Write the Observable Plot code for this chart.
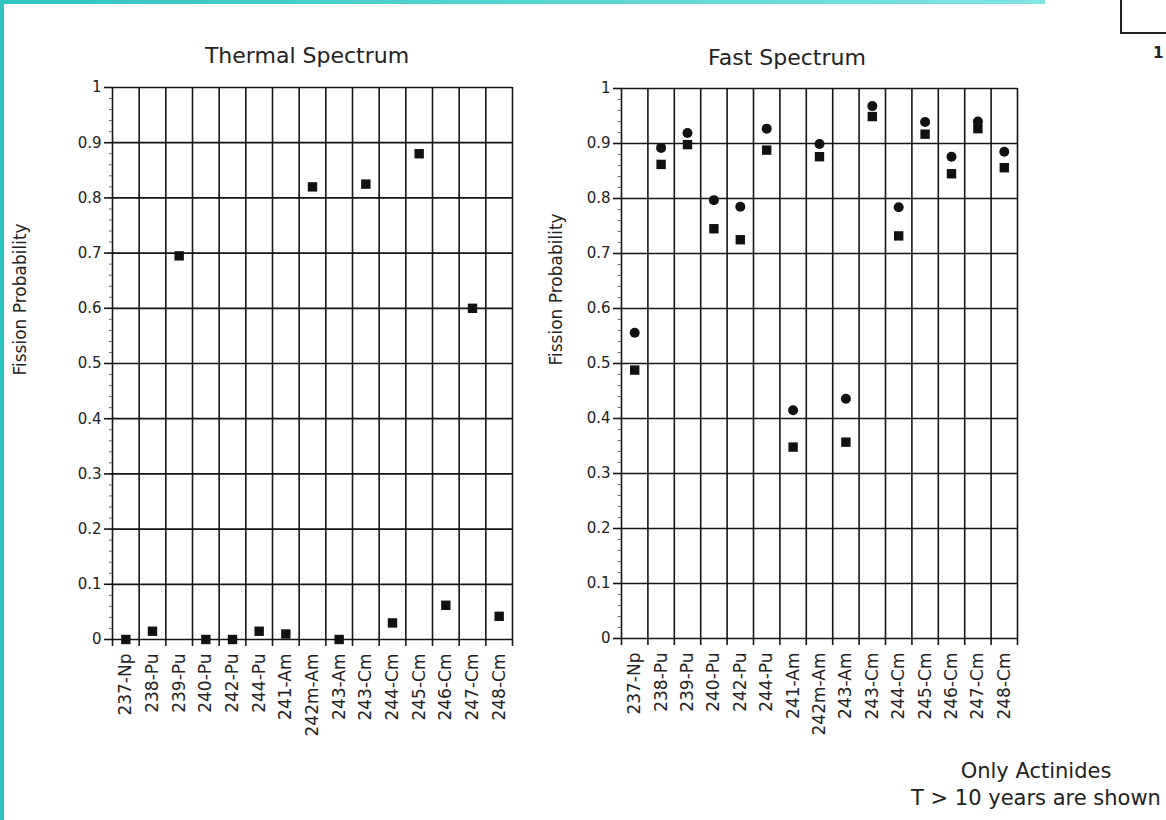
<!DOCTYPE html>
<html>
<head>
<meta charset="utf-8">
<script src="https://cdn.jsdelivr.net/npm/d3@7"></script>
<script src="https://cdn.jsdelivr.net/npm/@observablehq/plot@0.6"></script>
<style>
  html, body { margin: 0; padding: 0; background: #fff; overflow: hidden; }
  #page { position: relative; width: 1166px; height: 820px; overflow: hidden; background: #fff;
          font-family: "DejaVu Sans", sans-serif; color: #222; }
  .abs { position: absolute; }
  #leftbar { left: 0; top: 0; width: 4px; height: 820px; background: #2ec4c0; }
  #topbar { left: 0; top: 0; width: 1045px; height: 4px; background: linear-gradient(to right, #2ec4c0, #7fe6e6); }
  #corner { left: 1120px; top: -2px; width: 60px; height: 34px; border-left: 2px solid #222; border-bottom: 2px solid #222; }
  #pagenum { left: 1153px; top: 44px; font-size: 15px; font-weight: bold; color: #222; }
  #caption { left: 886px; top: 758px; width: 300px; text-align: center; font-size: 21px; line-height: 27px; color: #222; white-space: nowrap; }
  #left { left: 0; top: 0; }
  #right { left: 540px; top: 0; }
</style>
</head>
<body>
<div id="page">
  <div id="leftbar" class="abs"></div>
  <div id="topbar" class="abs"></div>
  <div id="corner" class="abs"></div>
  <div id="pagenum" class="abs">1</div>
  <div id="left" class="abs"></div>
  <div id="right" class="abs"></div>
  <div id="caption" class="abs">Only Actinides<br>T &gt; 10 years are shown</div>
</div>
<script>
// ---- data ----
const isotopes = ["237-Np","238-Pu","239-Pu","240-Pu","242-Pu","244-Pu","241-Am","242m-Am","243-Am","243-Cm","244-Cm","245-Cm","246-Cm","247-Cm","248-Cm"];
const thermalSquare = [0, 0.015, 0.695, 0, 0, 0.015, 0.01, 0.82, 0, 0.825, 0.03, 0.88, 0.062, 0.6, 0.042];
const fastCircle = [0.556, 0.892, 0.919, 0.797, 0.785, 0.927, 0.415, 0.899, 0.436, 0.968, 0.784, 0.939, 0.876, 0.94, 0.885];
const fastSquare = [0.488, 0.862, 0.898, 0.745, 0.725, 0.888, 0.348, 0.876, 0.357, 0.949, 0.732, 0.917, 0.845, 0.927, 0.856];
const yTicks = [0, 0.1, 0.2, 0.3, 0.4, 0.5, 0.6, 0.7, 0.8, 0.9, 1];
const panelTitles = ["Thermal Spectrum", "Fast Spectrum"];
const yLabel = "Fission Probability";

// ---- derived tables ----
const columnEdges = d3.range(isotopes.length + 1);
const columnCenters = isotopes.map((_, i) => i + 0.5);
const yMinor = d3.ticks(0, 1, 50);
const thermalRows = isotopes.map((name, i) => ({name, i, p: thermalSquare[i]}));
const fastCircleRows = isotopes.map((name, i) => ({name, i, p: fastCircle[i]}));
const fastSquareRows = isotopes.map((name, i) => ({name, i, p: fastSquare[i]}));

const fmtY = v => v === 0 ? "0" : v === 1 ? "1" : v.toFixed(1);
const ink = "#151515";

function panel({width, marginLeft, marginRight, marginTop, marginBottom, title, titleDx, titleDy, labelDx, labelDy, dots}) {
  return Plot.plot({
    width, height: 760, marginLeft, marginRight, marginTop, marginBottom,
    x: {type: "linear", domain: [0, isotopes.length]},
    y: {domain: [0, 1]},
    style: {fontFamily: "DejaVu Sans, sans-serif", fontSize: "15px", color: "#222", background: "transparent", overflow: "visible"},
    marks: [
      Plot.gridX(columnEdges, {stroke: ink, strokeOpacity: 1, strokeWidth: 1.6}),
      Plot.gridY(yTicks, {stroke: ink, strokeOpacity: 1, strokeWidth: 1.7}),
      Plot.axisX(columnEdges, {tickSize: 7, tickFormat: () => "", label: null, stroke: ink, strokeWidth: 1.6}),
      Plot.axisX(columnCenters, {tickSize: 0, tickPadding: 14, tickRotate: -90, fontSize: 17,
        tickFormat: v => isotopes[Math.floor(v)], label: null}),
      Plot.axisY(yMinor, {tickSize: 3, tickFormat: () => "", label: null, stroke: "#666", strokeWidth: 1}),
      Plot.axisY(yTicks, {tickSize: 8, tickPadding: 3, tickFormat: fmtY, fontSize: 15, label: null, stroke: ink, strokeWidth: 1.6}),
      ...dots,
      Plot.text([title], {frameAnchor: "top", dx: titleDx, dy: titleDy, lineAnchor: "bottom", fontSize: 22, fill: "#222"}),
      Plot.text([yLabel], {frameAnchor: "left", dx: labelDx, dy: labelDy, rotate: -90, fontSize: 17, fill: "#222"})
    ]
  });
}

const left = panel({
  width: 540, marginLeft: 112, marginRight: 28, marginTop: 87, marginBottom: 121,
  title: panelTitles[0], titleDx: -5.5, titleDy: -25, labelDx: -92, labelDy: 12,
  dots: [
    Plot.dot(thermalRows, {x: d => d.i + 0.5, y: "p", symbol: "square", r: 5.3, fill: "#111", stroke: null})
  ]
});
document.getElementById("left").appendChild(left);

const right = panel({
  width: 500, marginLeft: 81, marginRight: 23, marginTop: 88, marginBottom: 122,
  title: panelTitles[1], titleDx: -32.5, titleDy: -24, labelDx: -65, labelDy: 2,
  dots: [
    Plot.dot(fastCircleRows, {x: d => d.i + 0.5, y: "p", symbol: "circle", r: 5, fill: "#111", stroke: null}),
    Plot.dot(fastSquareRows, {x: d => d.i + 0.5, y: "p", symbol: "square", r: 5.3, fill: "#111", stroke: null})
  ]
});
document.getElementById("right").appendChild(right);
</script>
</body>
</html>
